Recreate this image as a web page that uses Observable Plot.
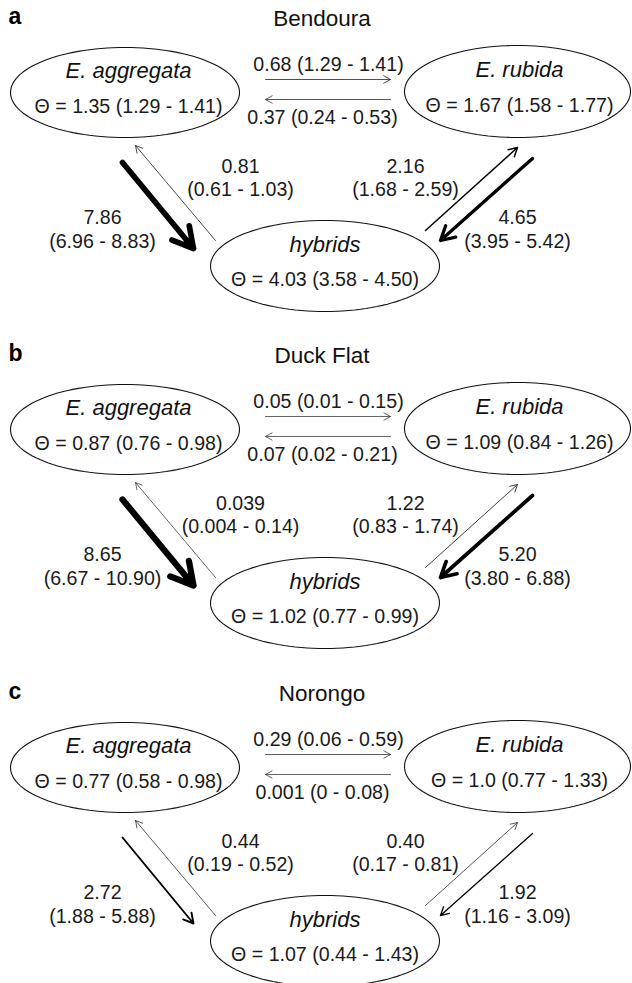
<!DOCTYPE html>
<html><head><meta charset="utf-8">
<script src="https://cdn.jsdelivr.net/npm/d3@7"></script>
<script src="https://cdn.jsdelivr.net/npm/@observablehq/plot@0.6"></script>
<style>body{margin:0;background:#fff}svg{display:block}</style>
</head><body><div id="chart"></div>
<script>
// ---------- data ----------
const panelLetters = ["a", "b", "c"];
const sites = ["Bendoura", "Duck Flat", "Norongo"];
const taxa = ["E. aggregata", "E. rubida", "hybrids"];
// Theta per taxon: [estimate, low, high]
const thetaBendoura = [["1.35", "1.29", "1.41"], ["1.67", "1.58", "1.77"], ["4.03", "3.58", "4.50"]];
const thetaDuckFlat = [["0.87", "0.76", "0.98"], ["1.09", "0.84", "1.26"], ["1.02", "0.77", "0.99"]];
const thetaNorongo  = [["0.77", "0.58", "0.98"], ["1.0", "0.77", "1.33"], ["1.07", "0.44", "1.43"]];
// migration routes as [from taxon, to taxon]
const routes = [[0, 1], [1, 0], [0, 2], [2, 0], [2, 1], [1, 2]];
// migration rate per route: [estimate, low, high]
const migBendoura = [["0.68", "1.29", "1.41"], ["0.37", "0.24", "0.53"], ["7.86", "6.96", "8.83"], ["0.81", "0.61", "1.03"], ["2.16", "1.68", "2.59"], ["4.65", "3.95", "5.42"]];
const migDuckFlat = [["0.05", "0.01", "0.15"], ["0.07", "0.02", "0.21"], ["8.65", "6.67", "10.90"], ["0.039", "0.004", "0.14"], ["1.22", "0.83", "1.74"], ["5.20", "3.80", "6.88"]];
const migNorongo  = [["0.29", "0.06", "0.59"], ["0.001", "0", "0.08"], ["2.72", "1.88", "5.88"], ["0.44", "0.19", "0.52"], ["0.40", "0.17", "0.81"], ["1.92", "1.16", "3.09"]];
const thetas = [thetaBendoura, thetaDuckFlat, thetaNorongo];
const migs = [migBendoura, migDuckFlat, migNorongo];

// ---------- layout (panel-local pixel space) ----------
const panelTop = [0, 337, 675];
const nodeLayout = [
  {cx: 124.5, cy: 92, rx: 114.5, ry: 45, tx: 128},
  {cx: 517, cy: 91, rx: 113, ry: 46, tx: 519},
  {cx: 324.5, cy: 265.5, rx: 114.5, ry: 45.5, tx: 324.5}
];
const routeLayout = [
  {x1: 265, y1: 79, x2: 390, y2: 79, lx: 328, ly: [70], oneLine: true},
  {x1: 390, y1: 99, x2: 265, y2: 99, lx: 322, ly: [123], oneLine: true},
  {x1: 122, y1: 162, x2: 193, y2: 248, lx: 102, ly: [223, 247]},
  {x1: 215, y1: 240, x2: 135, y2: 145, lx: 240, ly: [172, 195]},
  {x1: 425, y1: 230, x2: 517, y2: 147, lx: 405, ly: [172, 195]},
  {x1: 532, y1: 158, x2: 440, y2: 240, lx: 517, ly: [223, 247]}
];

const widthScale = d3.scaleLinear().domain([0, 1.5, 9]).range([0.75, 1, 6.5]).clamp(true);
const font = "'Liberation Sans', Arial, Helvetica, sans-serif";

// ---------- build mark tables ----------
const ellipsePts = [], names = [], normalTexts = [], letters = [], titles = [], arrows = [];
sites.forEach((site, p) => {
  const top = panelTop[p];
  letters.push({x: 8, y: top + 23, text: panelLetters[p]});
  titles.push({x: 321.5, y: top + 25, text: site});
  taxa.forEach((taxon, i) => {
    const n = nodeLayout[i];
    for (let k = 0; k <= 120; k++) {
      const t = (k / 120) * 2 * Math.PI;
      ellipsePts.push({x: n.cx + n.rx * Math.cos(t), y: top + n.cy + n.ry * Math.sin(t), z: `${p}-${i}`});
    }
    names.push({x: n.tx, y: top + n.cy - 14.5, text: taxon});
    const [e, lo, hi] = thetas[p][i];
    normalTexts.push({x: n.tx, y: top + n.cy + 20, text: `\u0398 = ${e} (${lo} - ${hi})`});
  });
  routes.forEach((r, j) => {
    const g = routeLayout[j];
    const [e, lo, hi] = migs[p][j];
    const sw = widthScale(+e);
    arrows.push({x1: g.x1, y1: top + g.y1, x2: g.x2, y2: top + g.y2, sw, value: +e, from: taxa[r[0]], to: taxa[r[1]]});
    if (g.oneLine) {
      normalTexts.push({x: g.lx, y: top + g.ly[0], text: `${e} (${lo} - ${hi})`});
    } else {
      normalTexts.push({x: g.lx, y: top + g.ly[0], text: e});
      normalTexts.push({x: g.lx, y: top + g.ly[1], text: `(${lo} - ${hi})`});
    }
  });
});

const arrowMarks = arrows.map(a => Plot.arrow([a], {
  x1: "x1", y1: "y1", x2: "x2", y2: "y2",
  strokeWidth: a.sw,
  stroke: a.sw < 1.2 ? "#333" : "#000",
  headLength: 1.5 * (5 + 3.2 * a.sw) / a.sw,
  headAngle: 58
}));

const chart = Plot.plot({
  width: 632, height: 983,
  margin: 0,
  x: {domain: [0, 632], range: [0, 632], axis: null},
  y: {domain: [0, 983], range: [0, 983], axis: null},
  style: {fontFamily: font, background: "#fff", color: "#111"},
  marks: [
    Plot.line(ellipsePts, {x: "x", y: "y", z: "z", stroke: "#111", strokeWidth: 1.1, curve: "linear-closed"}),
    ...arrowMarks,
    Plot.text(titles, {x: "x", y: "y", text: "text", fontSize: 22.5, lineAnchor: "bottom", textAnchor: "middle", fill: "#111"}),
    Plot.text(letters, {x: "x", y: "y", text: "text", fontSize: 23, fontWeight: "bold", lineAnchor: "bottom", textAnchor: "start", fill: "#000"}),
    Plot.text(names, {x: "x", y: "y", text: "text", fontSize: 22, fontStyle: "italic", lineAnchor: "bottom", textAnchor: "middle", fill: "#111"}),
    Plot.text(normalTexts, {x: "x", y: "y", text: "text", fontSize: 19.6, lineAnchor: "bottom", textAnchor: "middle", fill: "#1a1a1a"})
  ]
});
document.getElementById("chart").appendChild(chart);
</script>
</body></html>
